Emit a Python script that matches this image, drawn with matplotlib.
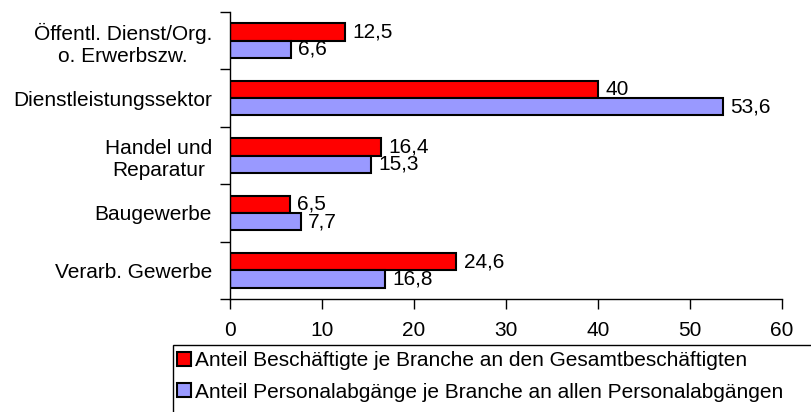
import numpy as np
import matplotlib.pyplot as plt
from matplotlib.patches import Rectangle

# Daten (von oben nach unten)
branchen = ['Öffentl. Dienst/Org.\no. Erwerbszw.', 'Dienstleistungssektor',
            'Handel und\nReparatur', 'Baugewerbe', 'Verarb. Gewerbe']
beschaeftigte = [12.5, 40, 16.4, 6.5, 24.6]
abgaenge = [6.6, 53.6, 15.3, 7.7, 16.8]
label_besch = 'Anteil Beschäftigte je Branche an den Gesamtbeschäftigten'
label_abg = 'Anteil Personalabgänge je Branche an allen Personalabgängen'

plt.rcParams['font.family'] = ['Liberation Sans', 'DejaVu Sans']
plt.rcParams['font.size'] = 15

fig = plt.figure(figsize=(8.12, 4.12), dpi=100)
ax = fig.add_axes([230/812, 1 - 299/412, 552/812, 287/412])

y = np.arange(len(branchen))[::-1]
h = 0.3
b1 = ax.barh(y + h/2, beschaeftigte, height=h, color='#ff0000', edgecolor='black', linewidth=1.5,
             label=label_besch)
b2 = ax.barh(y - h/2, abgaenge, height=h, color='#9999ff', edgecolor='black', linewidth=1.5,
             label=label_abg)

def fmt(v):
    return ('%g' % v).replace('.', ',')

for bars, vals in ((b1, beschaeftigte), (b2, abgaenge)):
    for bar, v in zip(bars, vals):
        ax.text(v + 0.8, bar.get_y() + bar.get_height()/2, fmt(v), va='center', ha='left')

ax.set_xlim(0, 60)
ax.set_ylim(-0.5, len(branchen) - 0.5)
ax.set_xticks(range(0, 61, 10))
ax.set_yticks(np.arange(-0.5, len(branchen), 1.0))
ax.set_yticklabels([])
ax.set_yticks(y, minor=True)
ax.set_yticklabels(branchen, minor=True, ha='right', multialignment='center', linespacing=1.2)
ax.tick_params(axis='y', which='minor', length=0, pad=13)
ax.tick_params(axis='y', which='major', length=7, width=1)
ax.tick_params(axis='x', length=7, width=1, pad=9)
for s in ('top', 'right'):
    ax.spines[s].set_visible(False)
for s in ('left', 'bottom'):
    ax.spines[s].set_linewidth(1)

# Legende, Rahmen reicht bis über den Bildrand
leg = fig.legend(handles=[b1, b2], loc='upper left', bbox_to_anchor=(171/812, 1 - 345/412),
                 frameon=False, handlelength=0.65, handleheight=0.65, handletextpad=0.2,
                 borderpad=0.3, labelspacing=0.6, borderaxespad=0)
fig.patches.append(Rectangle((173/812, -0.05), 0.9, 1 - 345/412 + 0.05,
                             transform=fig.transFigure, fill=False, edgecolor='black',
                             linewidth=1))

fig.savefig('out.png', dpi=100)
